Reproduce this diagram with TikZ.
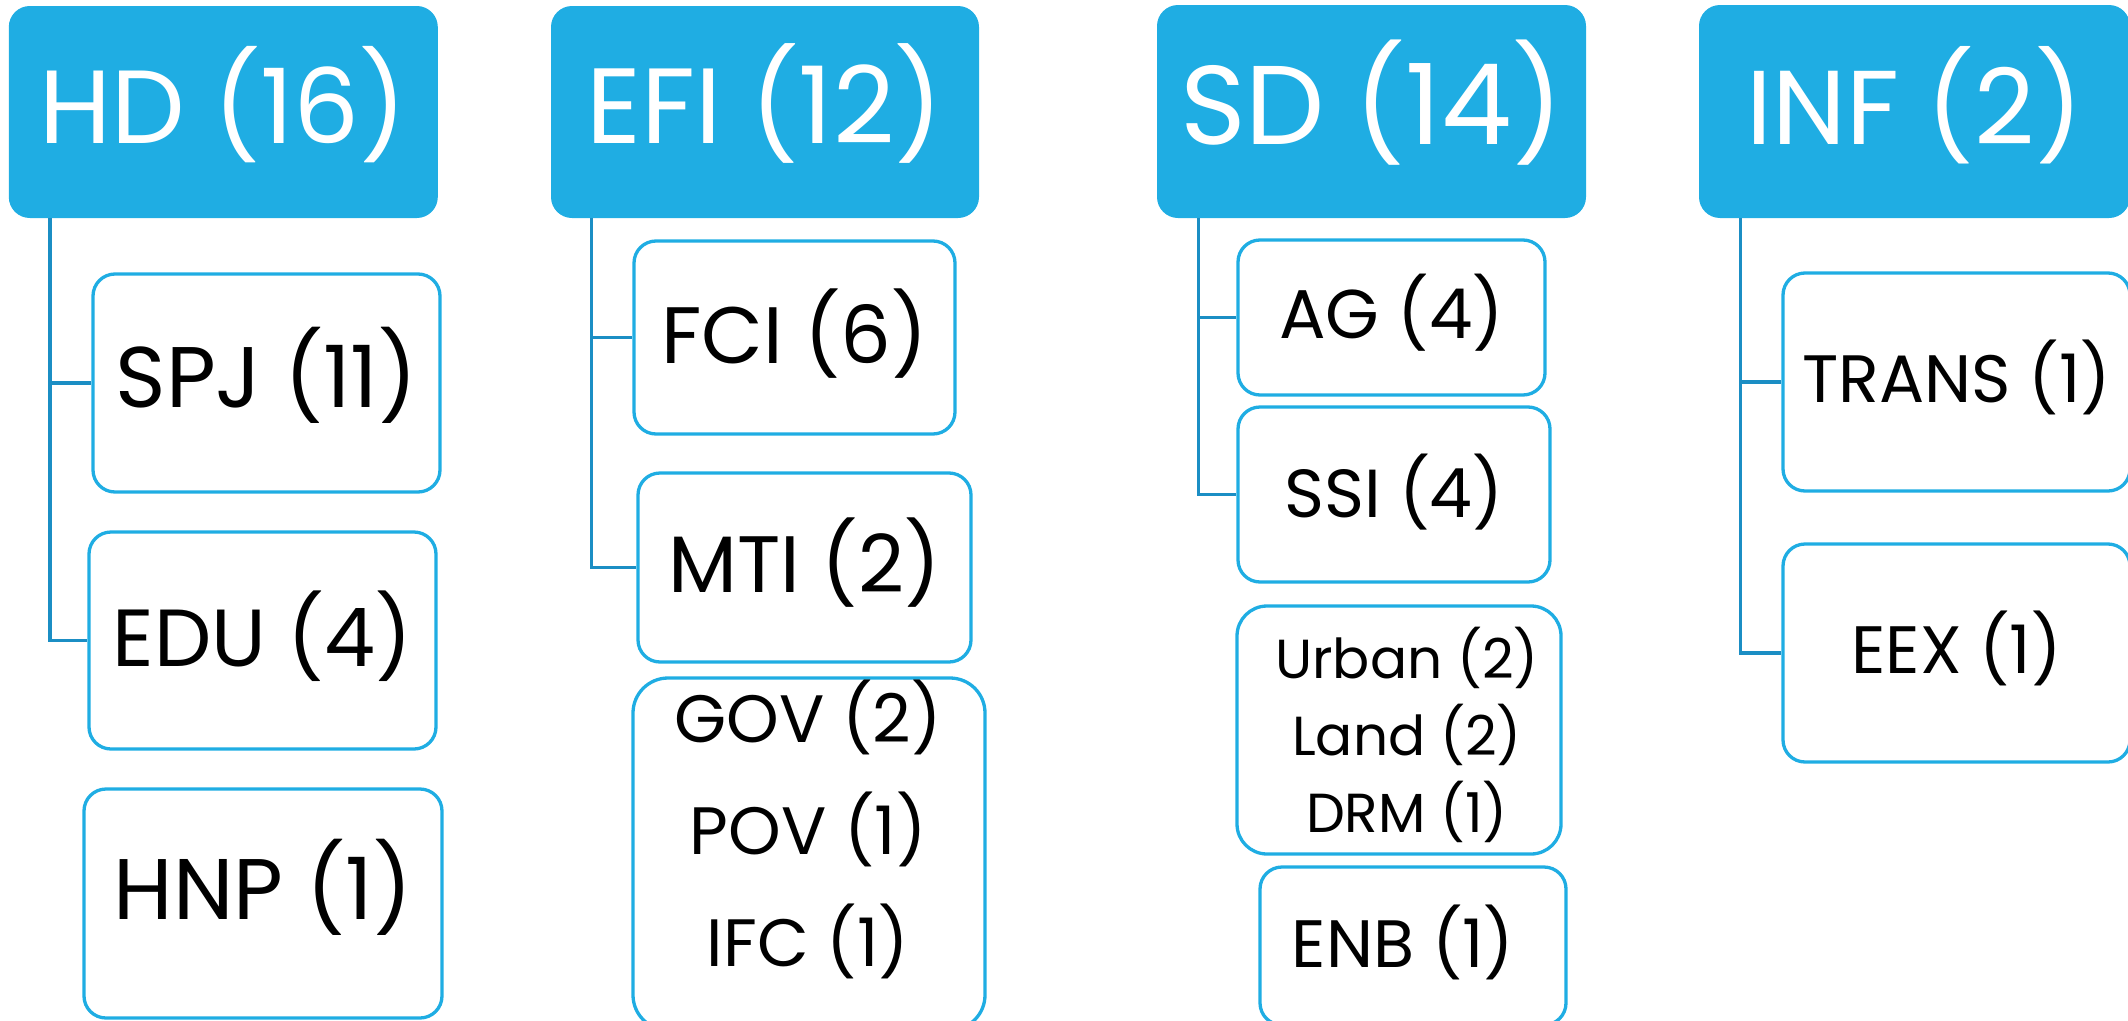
\documentclass[tikz,border=0pt]{standalone}
\usepackage{fontspec}
\setmainfont{Poppins}
\definecolor{hdrblue}{HTML}{1FADE3}
\definecolor{linkblue}{HTML}{1B8EC4}
\tikzset{
  hdrbox/.style={fill=hdrblue, draw=none, rounded corners=21pt, inner sep=0pt, text=white},
  kidbox/.style={draw=hdrblue, line width=3.3pt, fill=white, rounded corners=22pt, inner sep=0pt, text=black},
  trunk/.style={draw=linkblue, line width=3.2pt},
  fs/.style={font=\fontsize{#1}{#1}\selectfont},
  txth/.style={text height=#1, text depth=0pt},
}
\begin{document}
\begin{tikzpicture}[x=1pt,y=-1pt]
\useasboundingbox (0,0) rectangle (2128,1020);
\clip (0,0) rectangle (2128,1020);

% top-level headers
\node[hdrbox, fs=104, txth=62pt, minimum width=429pt, minimum height=212pt] (hd)  at (223.3,112)    {HD (16)};
\node[hdrbox, fs=107, txth=62pt, minimum width=428pt, minimum height=212pt] (efi) at (765,112)      {EFI (12)};
\node[hdrbox, fs=112, txth=65pt, minimum width=429pt, minimum height=213pt] (sd)  at (1371.5,111.5) {SD (14)};
\node[hdrbox, fs=105, txth=65pt, minimum width=431pt, minimum height=213pt] (inf) at (1914.5,111.5) {INF (2)};

% HD column
\node[kidbox, fs=86, txth=48pt, minimum width=347pt, minimum height=218pt] (spj) at (266.5,383)   {SPJ (11)};
\node[kidbox, fs=81, txth=51pt, minimum width=347pt, minimum height=217pt] (edu) at (262.5,640.5) {EDU (4)};
\node[kidbox, fs=86, txth=31pt, minimum width=358pt, minimum height=229pt] (hnp) at (263,903.5)   {HNP (1)};

% EFI column
\node[kidbox, fs=80, txth=51pt, minimum width=321pt, minimum height=193pt] (fci) at (794.5,337.5) {FCI (6)};
\node[kidbox, fs=80, txth=49pt, minimum width=333pt, minimum height=189pt] (mti) at (804.5,567.5) {MTI (2)};
\node[kidbox, rounded corners=35pt, minimum width=352pt, minimum height=352pt] (gov) at (809,854) {};
\node[align=center, font=\fontsize{67}{112}\selectfont] (govlist) at (808,829) {GOV (2)\\POV (1)\\IFC (1)};

% SD column
\node[kidbox, fs=69, txth=41pt, minimum width=307pt, minimum height=155pt] (ag)  at (1391.5,317.5) {AG (4)};
\node[kidbox, fs=68, txth=45pt, minimum width=312pt, minimum height=175pt] (ssi) at (1394,494.5)   {SSI (4)};
\node[kidbox, rounded corners=30pt, minimum width=324pt, minimum height=248pt] (urb) at (1399,730) {};
\node[align=center, font=\fontsize{55}{77}\selectfont] (urblist) at (1407,735) {Urban (2)\\Land (2)\\DRM (1)};
\node[kidbox, fs=67, txth=42pt, minimum width=306pt, minimum height=158pt] (enb) at (1413,946) {\hspace*{-20pt}ENB (1)};

% INF column
\node[kidbox, fs=67, txth=40pt, minimum width=347pt, minimum height=218pt] (trans) at (1956.5,382) {TRANS (1)};
\node[kidbox, fs=67, txth=40pt, minimum width=347pt, minimum height=218pt] (eex)   at (1956.5,653) {EEX (1)};

% connectors from each header down to its children
\draw[trunk] ([xshift=41.4pt]hd.south west) |- (spj.west);
\draw[trunk] ([xshift=41.4pt]hd.south west) |- (edu.west);
\draw[trunk] ([xshift=41pt]efi.south west)  |- (fci.west);
\draw[trunk] ([xshift=41pt]efi.south west)  |- (mti.west);
\draw[trunk] ([xshift=42pt]sd.south west)   |- (ag.west);
\draw[trunk] ([xshift=42pt]sd.south west)   |- (ssi.west);
\draw[trunk] ([xshift=42pt]inf.south west)  |- (trans.west);
\draw[trunk] ([xshift=42pt]inf.south west)  |- (eex.west);
\end{tikzpicture}
\end{document}
